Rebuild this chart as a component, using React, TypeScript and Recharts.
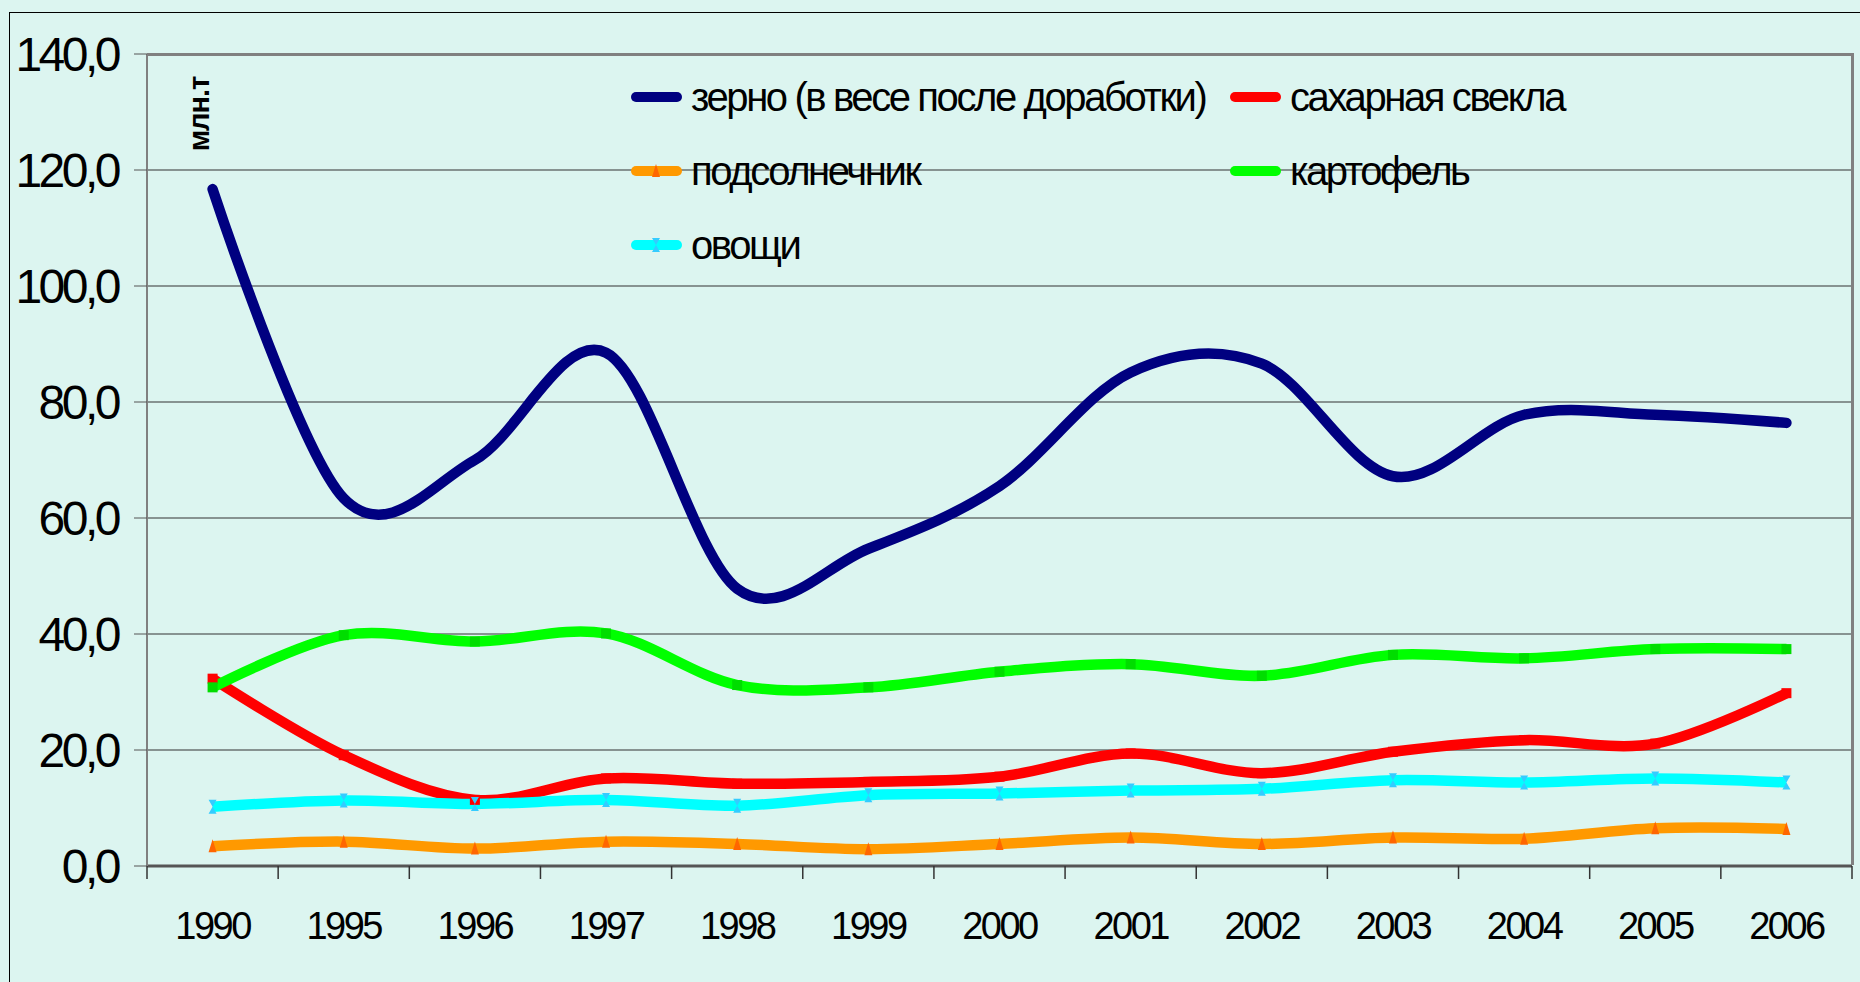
import { CartesianGrid, Legend, Line, LineChart, XAxis, YAxis } from "recharts";

const years = ["1990", "1995", "1996", "1997", "1998", "1999", "2000", "2001", "2002", "2003", "2004", "2005", "2006"];
const grain = [116.7, 63.4, 70.0, 88.5, 47.8, 54.7, 65.5, 85.1, 86.6, 67.2, 77.8, 77.8, 76.4];
const sugarBeet = [32.3, 19.1, 11.4, 15.1, 14.2, 14.5, 15.4, 19.4, 16.0, 19.7, 21.7, 21.1, 29.8];
const sunflower = [3.4, 4.2, 3.0, 4.2, 3.8, 2.9, 3.8, 4.9, 3.8, 4.9, 4.7, 6.5, 6.4];
const potatoes = [30.8, 39.8, 38.7, 40.1, 31.2, 30.8, 33.5, 34.8, 32.8, 36.4, 35.8, 37.4, 37.4];
const vegetables = [10.2, 11.3, 10.7, 11.4, 10.4, 12.2, 12.5, 13.0, 13.3, 14.8, 14.4, 15.1, 14.4];
const yTicks = [0, 20, 40, 60, 80, 100, 120, 140];

const data = years.map((year, i) => ({
  year,
  grain: grain[i],
  sugarBeet: sugarBeet[i],
  sunflower: sunflower[i],
  potatoes: potatoes[i],
  vegetables: vegetables[i]
}));

type Marker = "none" | "square" | "triangle" | "bowtie";

const series: { key: string; name: string; color: string; marker: Marker; markerColor: string }[] = [
  { key: "grain", name: "зерно (в весе после доработки)", color: "#000080", marker: "none", markerColor: "#000080" },
  { key: "sugarBeet", name: "сахарная свекла", color: "#ff0000", marker: "square", markerColor: "#ff0000" },
  { key: "sunflower", name: "подсолнечник", color: "#ff9900", marker: "triangle", markerColor: "#ff6600" },
  { key: "potatoes", name: "картофель", color: "#00ff00", marker: "square", markerColor: "#00dd00" },
  { key: "vegetables", name: "овощи", color: "#00ffff", marker: "bowtie", markerColor: "#33ccff" }
];

const W = 1860;
const H = 982;
const PLOT_LEFT = 147;
const PLOT_TOP = 54;
const PLOT_RIGHT = 1852;
const PLOT_BOTTOM = 866;
const BAND = (PLOT_RIGHT - PLOT_LEFT) / years.length;
const FONT = '"Liberation Sans", Arial, sans-serif';

// Excel-like smoothed line (Catmull-Rom through the points)
const smoothCurve = (context: any) => {
  let x0 = NaN, x1 = NaN, x2 = NaN, y0 = NaN, y1 = NaN, y2 = NaN;
  let pt = 0;
  let line = NaN;
  const k = 1 / 6;
  const seg = (x: number, y: number) => {
    context.bezierCurveTo(x1 + k * (x2 - x0), y1 + k * (y2 - y0), x2 + k * (x1 - x), y2 + k * (y1 - y), x2, y2);
  };
  return {
    areaStart() { line = 0; },
    areaEnd() { line = NaN; },
    lineStart() { x0 = x1 = x2 = y0 = y1 = y2 = NaN; pt = 0; },
    lineEnd() {
      if (pt === 2) context.lineTo(x2, y2);
      else if (pt === 3) seg(x1, y1);
      if (line || (line !== 0 && pt === 1)) context.closePath();
      line = 1 - line;
    },
    point(x: number, y: number) {
      x = +x; y = +y;
      if (pt === 0) {
        pt = 1;
        line ? context.lineTo(x, y) : context.moveTo(x, y);
      } else if (pt === 1) {
        pt = 2;
        x1 = x; y1 = y;
      } else {
        pt = 3;
        seg(x, y);
      }
      x0 = x1; x1 = x2; x2 = x;
      y0 = y1; y1 = y2; y2 = y;
    }
  };
};

const MarkerShape = ({ cx, cy, kind, color }: { cx: number; cy: number; kind: Marker; color: string }) => {
  if (kind === "square") return <rect x={cx - 5} y={cy - 5} width={10} height={10} fill={color} />;
  if (kind === "triangle")
    return <path d={`M${cx},${cy - 7} L${cx + 4},${cy + 6} L${cx - 4},${cy + 6} Z`} fill={color} />;
  if (kind === "bowtie")
    return (
      <path
        d={`M${cx - 4},${cy - 7} L${cx + 4},${cy - 7} L${cx},${cy} L${cx + 4},${cy + 7} L${cx - 4},${cy + 7} L${cx},${cy} Z`}
        fill={color}
      />
    );
  return null;
};

const YTick = ({ x, y, payload }: any) => (
  <text x={x} y={y} dy={17} textAnchor="end" fontSize={48} fontFamily={FONT} fill="#000" letterSpacing={-3.5}>
    {Number(payload.value).toFixed(1).replace(".", ",")}
  </text>
);

const XTick = ({ x, payload, index }: any) => (
  <g>
    <line x1={x - BAND / 2} x2={x - BAND / 2} y1={PLOT_BOTTOM} y2={PLOT_BOTTOM + 13} stroke="#333" strokeWidth={1.5} />
    {index === years.length - 1 && (
      <line x1={x + BAND / 2} x2={x + BAND / 2} y1={PLOT_BOTTOM} y2={PLOT_BOTTOM + 13} stroke="#333" strokeWidth={1.5} />
    )}
    <text x={x} y={939} textAnchor="middle" fontSize={38} fontFamily={FONT} fill="#000" letterSpacing={-2.5}>
      {payload.value}
    </text>
  </g>
);

const UnitLabel = ({ viewBox }: any) => {
  const x = viewBox.x + viewBox.width + 52;
  const y = viewBox.y + 60;
  return (
    <text
      x={x}
      y={y}
      transform={`rotate(-90 ${x} ${y})`}
      textAnchor="middle"
      dominantBaseline="central"
      fontSize={29}
      fontWeight="bold"
      fontFamily={FONT}
      fill="#000"
      letterSpacing={-1}
    >
      млн.т
    </text>
  );
};

// legend keeps the series order (row by row, two columns)
const LegendBox = () => (
  <div style={{ display: "grid", gridTemplateColumns: "599px 360px", fontFamily: FONT }}>
    {series.map((s) => (
      <div key={s.key} style={{ height: 74, display: "flex", alignItems: "center" }}>
        <svg width={60} height={24} style={{ flex: "none" }}>
          <line x1={10} x2={51} y1={12} y2={12} stroke={s.color} strokeWidth={10} strokeLinecap="round" />
          <MarkerShape cx={30} cy={12} kind={s.marker === "square" ? "none" : s.marker} color={s.markerColor} />
        </svg>
        <span style={{ fontSize: 40, letterSpacing: -2.4, marginLeft: 5, color: "#000", whiteSpace: "nowrap" }}>
          {s.name}
        </span>
      </div>
    ))}
  </div>
);

const App = () => {
  return (
    <div
      style={{
        position: "absolute",
        left: 0,
        top: 0,
        width: W,
        height: H,
        background: "#dcf5f0",
        overflow: "hidden"
      }}
    >
      <div
        style={{
          position: "absolute",
          left: 9,
          top: 12,
          width: W,
          height: H,
          border: "1.5px solid #000"
        }}
      />
      <LineChart
        width={W}
        height={H}
        data={data}
        margin={{ top: PLOT_TOP, right: W - PLOT_RIGHT, left: PLOT_LEFT - 120, bottom: 36 }}
      >
        <CartesianGrid vertical={false} stroke="#333" strokeWidth={1.2} />
        <XAxis
          dataKey="year"
          scale="band"
          height={H - PLOT_BOTTOM - 36}
          axisLine={{ stroke: "#555", strokeWidth: 3 }}
          tickLine={false}
          tick={<XTick />}
          interval={0}
        />
        <YAxis
          width={120}
          domain={[0, 140]}
          ticks={yTicks}
          interval={0}
          tickSize={13}
          tickMargin={16}
          tickLine={{ stroke: "#555" }}
          axisLine={{ stroke: "#808080", strokeWidth: 2 }}
          tick={<YTick />}
          label={{ content: <UnitLabel /> }}
        />
        <Legend
          layout="horizontal"
          verticalAlign="middle"
          content={<LegendBox />}
          wrapperStyle={{ left: 626, top: 60, width: 1000, height: 222 }}
        />
        {series.map((s) => (
          <Line
            key={s.key}
            dataKey={s.key}
            name={s.name}
            type={smoothCurve as any}
            stroke={s.color}
            strokeWidth={10.5}
            strokeLinecap={s.marker === "none" ? "round" : "butt"}
            dot={(props: any) => (
              <MarkerShape key={`${s.key}-${props.index}`} cx={props.cx} cy={props.cy} kind={s.marker} color={s.markerColor} />
            )}
            activeDot={false}
            isAnimationActive={false}
          />
        ))}
      </LineChart>
      <div
        style={{
          position: "absolute",
          left: PLOT_LEFT,
          top: PLOT_TOP - 1,
          width: PLOT_RIGHT - PLOT_LEFT + 2,
          height: PLOT_BOTTOM - PLOT_TOP,
          borderTop: "3px solid #808080",
          borderRight: "3px solid #808080",
          boxSizing: "border-box",
          pointerEvents: "none"
        }}
      />
    </div>
  );
};

export default App;
